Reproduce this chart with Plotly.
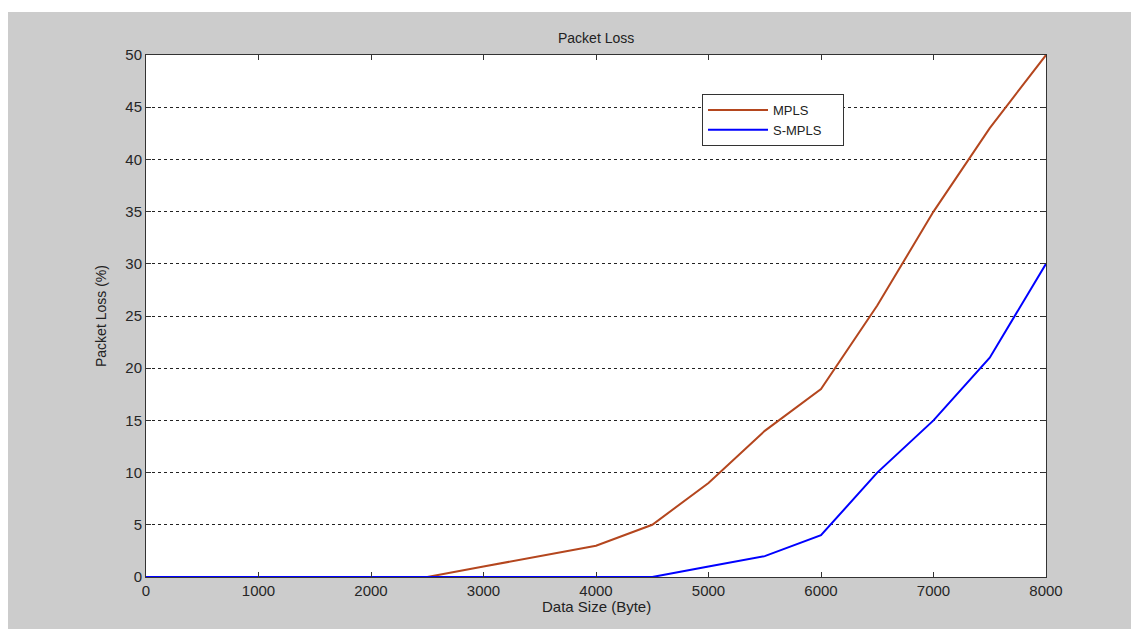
import plotly.graph_objects as go

data_size = [0, 500, 1000, 1500, 2000, 2500, 3000, 3500, 4000, 4500, 5000, 5500, 6000, 6500, 7000, 7500, 8000]
mpls = [0, 0, 0, 0, 0, 0, 1, 2, 3, 5, 9, 14, 18, 26, 35, 43, 50]
smpls = [0, 0, 0, 0, 0, 0, 0, 0, 0, 0, 1, 2, 4, 10, 15, 21, 30]
x_ticks = [0, 1000, 2000, 3000, 4000, 5000, 6000, 7000, 8000]
y_ticks = [0, 5, 10, 15, 20, 25, 30, 35, 40, 45, 50]

font = "Liberation Sans, Arial, sans-serif"
tick_col = "#262626"
gray = "#CCCCCC"

fig = go.Figure()
fig.add_trace(go.Scatter(x=data_size, y=mpls, mode="lines", name="MPLS\u00a0\u00a0\u00a0\u00a0\u00a0\u00a0\u00a0\u00a0",
                         line=dict(color="#B4461E", width=2)))
fig.add_trace(go.Scatter(x=data_size, y=smpls, mode="lines", name="S-MPLS\u00a0\u00a0\u00a0\u00a0",
                         line=dict(color="#0000FF", width=2)))

# body margin removed in the page, so figure coords = screen coords
W, H = 1131, 629
L, T = 146, 55
R = W - 1046
B = H - 577
pw, ph = W - L - R, H - T - B

fig.update_layout(
    width=W, height=H,
    margin=dict(l=L, r=R, t=T, b=B),
    paper_bgcolor=gray,
    plot_bgcolor="white",
    font=dict(family=font, size=13, color=tick_col),
    showlegend=True,
    legend=dict(x=(702 - L) / pw, y=1 - (94 - T) / ph,
                xanchor="left", yanchor="top",
                bgcolor="white", bordercolor="#333333", borderwidth=1,
                font=dict(family=font, size=13, color="#222222"),
                tracegroupgap=0, itemwidth=60),
    shapes=[
        # white strips of the page at the left and top edges
        dict(type="rect", xref="paper", yref="paper",
             x0=(0 - L) / pw - 0.05, x1=(8 - L) / pw,
             y0=-(B + 30) / ph, y1=1 + (T + 30) / ph,
             fillcolor="white", line=dict(width=0), layer="below"),
        dict(type="rect", xref="paper", yref="paper",
             x0=(0 - L) / pw - 0.05, x1=(W - L) / pw + 0.1,
             y0=1 + (T - 12) / ph, y1=1 + (T + 30) / ph,
             fillcolor="white", line=dict(width=0), layer="below"),
    ],
    annotations=[
        dict(text="Packet Loss", xref="paper", yref="paper", x=0.5, y=1,
             yshift=17, xanchor="center", yanchor="middle", showarrow=False,
             font=dict(family=font, size=14, color="#222222")),
        dict(text="Data Size (Byte)", xref="paper", yref="paper", x=0.5, y=0,
             yshift=-29, xanchor="center", yanchor="middle", showarrow=False,
             font=dict(family=font, size=15, color="#222222")),
        dict(text="Packet Loss (%)", xref="paper", yref="paper", x=0, y=0.5,
             xshift=-45, xanchor="center", yanchor="middle", showarrow=False,
             textangle=-90, font=dict(family=font, size=14, color="#222222")),
    ],
)

fig.update_xaxes(range=[0, 8000], tickvals=x_ticks, ticks="inside", ticklen=5,
                 tickcolor="#333333", showgrid=False, zeroline=False,
                 showline=True, linecolor="#333333", linewidth=1, mirror="ticks",
                 tickfont=dict(family=font, size=15, color=tick_col))
fig.update_yaxes(range=[0, 50], tickvals=y_ticks, ticks="inside", ticklen=5,
                 tickcolor="#333333", showgrid=True, gridcolor="#222222",
                 griddash="3px,3px", gridwidth=1, zeroline=False,
                 showline=True, linecolor="#333333", linewidth=1, mirror="ticks",
                 tickfont=dict(family=font, size=15, color=tick_col))

fig.write_html("out.html", config={"displayModeBar": False},
               post_script="document.body.style.margin='0';document.body.style.overflow='hidden';"
                           "document.body.style.background='#CCCCCC';")
